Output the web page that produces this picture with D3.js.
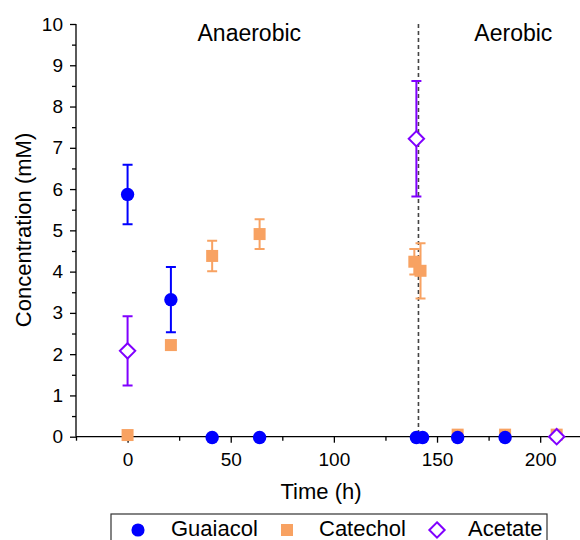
<!DOCTYPE html>
<html>
<head>
<meta charset="utf-8">
<script src="https://cdn.jsdelivr.net/npm/d3@7"></script>
<style>
  body { margin: 0; background: #fff; }
  text { font-family: "Liberation Sans", Arial, sans-serif; }
</style>
</head>
<body>
<svg id="chart"></svg>
<script>
// data
const guaiacolTime = [0, 21, 41, 64, 140, 143, 160, 183];
const guaiacolConc = [5.87, 3.32, -0.02, -0.02, -0.02, -0.02, -0.02, -0.02];
const guaiacolErr  = [0.72, 0.79, 0, 0, 0, 0, 0, 0];

const catecholTime = [0, 21, 41, 64, 139, 142, 160, 183, 208];
const catecholConc = [0.04, 2.22, 4.38, 4.91, 4.24, 4.02, 0.05, 0.05, 0.05];
const catecholErr  = [0, 0.08, 0.37, 0.36, 0.31, 0.67, 0, 0, 0];

const acetateTime = [0, 140, 208];
const acetateConc = [2.08, 7.22, 0];
const acetateErr  = [0.84, 1.4, 0];

const xTicks = [0, 50, 100, 150, 200];
const yTicks = [0, 1, 2, 3, 4, 5, 6, 7, 8, 9, 10];
const phaseLine = 141;
const phaseLabels = [{text: "Anaerobic", t: 59}, {text: "Aerobic", t: 187}];

const W = 580, H = 540;
const margin = {top: 24, right: 0, bottom: 103, left: 76};

const svg = d3.select("#chart").attr("width", W).attr("height", H);

const x = d3.scaleLinear().domain([-25, 225]).range([margin.left, margin.left + 250 * 2.063]);
const y = d3.scaleLinear().domain([0, 10]).range([H - margin.bottom - 0.3, margin.top]);

const blue = "#0000ff", orange = "#f8a262", purple = "#8000ff";

// axes
const xAxis = svg.append("g")
  .attr("transform", `translate(0,${y(0)})`)
  .call(d3.axisBottom(x).tickValues(xTicks).tickSize(6).tickPadding(10).tickFormat(d3.format("d")));
const xMinor = svg.append("g")
  .attr("transform", `translate(0,${y(0)})`)
  .call(d3.axisBottom(x).tickValues([-25, 25, 75, 125, 175, 225]).tickSize(4).tickFormat(""));
const yAxis = svg.append("g")
  .attr("transform", `translate(${margin.left},0)`)
  .call(d3.axisLeft(y).tickValues(yTicks).tickSize(6).tickPadding(7));
const yMinor = svg.append("g")
  .attr("transform", `translate(${margin.left},0)`)
  .call(d3.axisLeft(y).tickValues(d3.range(0.5, 10, 1)).tickSize(4).tickFormat(""));

[xAxis, xMinor, yAxis, yMinor].forEach(g => {
  g.selectAll("path, line").attr("stroke", "#000").attr("stroke-width", 1.3);
  g.selectAll("text").attr("font-size", 19).attr("fill", "#000")
    .attr("font-family", "'Liberation Sans', Arial, sans-serif");
});
xMinor.select("path").remove();
yMinor.select("path").remove();
xAxis.select("path").attr("d", `M${margin.left},0H${W}`);
yAxis.select("path").attr("d", `M0,${y(10)}V${y(0)}`);

// axis titles
svg.append("text").attr("x", 321).attr("y", 499).attr("text-anchor", "middle")
  .attr("font-size", 22).text("Time (h)");
svg.append("text").attr("transform", `translate(31,230) rotate(-90)`)
  .attr("text-anchor", "middle").attr("font-size", 22).text("Concentration (mM)");

// phase divider and labels
svg.append("line")
  .attr("x1", x(phaseLine)).attr("x2", x(phaseLine))
  .attr("y1", y(10)).attr("y2", y(0))
  .attr("stroke", "#444").attr("stroke-width", 1.6).attr("stroke-dasharray", "4,3");
svg.selectAll(".phase").data(phaseLabels).enter().append("text")
  .attr("x", d => x(d.t)).attr("y", 41).attr("text-anchor", "middle")
  .attr("font-size", 23).text(d => d.text);

// error bars + markers
function series(times, conc, err, color, shape) {
  const data = times.map((t, i) => ({t, v: conc[i], e: err[i]}));
  const g = svg.append("g");
  const withErr = data.filter(d => d.e > 0);
  g.selectAll(".eb").data(withErr).enter().append("path")
    .attr("fill", "none").attr("stroke", color).attr("stroke-width", 2)
    .attr("d", d => {
      const cx = x(d.t), y1 = y(d.v + d.e), y2 = y(d.v - d.e);
      return `M${cx},${y1}V${y2}M${cx - 5},${y1}H${cx + 5}M${cx - 5},${y2}H${cx + 5}`;
    });
  const sym = d3.symbol();
  g.selectAll(".pt").data(data).enter().append("path")
    .attr("transform", d => `translate(${x(d.t)},${y(d.v)})`)
    .attr("d", shape === "circle" ? sym.type(d3.symbolCircle).size(140)()
             : shape === "square" ? sym.type(d3.symbolSquare).size(144)()
             : sym.type(d3.symbolDiamond2).size(150)())
    .attr("fill", shape === "diamond" ? "#fff" : color)
    .attr("stroke", shape === "diamond" ? color : "none")
    .attr("stroke-width", 2);
}
series(catecholTime, catecholConc, catecholErr, orange, "square");
series(guaiacolTime, guaiacolConc, guaiacolErr, blue, "circle");
series(acetateTime, acetateConc, acetateErr, purple, "diamond");

// legend
const legend = svg.append("g");
legend.append("rect").attr("x", 111).attr("y", 514).attr("width", 436).attr("height", 40)
  .attr("fill", "#fff").attr("stroke", "#333").attr("stroke-width", 1.2);
const legendItems = [
  {name: "Guaiacol", color: blue, type: d3.symbolCircle, size: 135, fill: true, sx: 138, tx: 171},
  {name: "Catechol", color: orange, type: d3.symbolSquare, size: 144, fill: true, sx: 287, tx: 319},
  {name: "Acetate", color: purple, type: d3.symbolDiamond2, size: 150, fill: false, sx: 437, tx: 468}
];
legendItems.forEach(it => {
  legend.append("path").attr("transform", `translate(${it.sx},530)`)
    .attr("d", d3.symbol().type(it.type).size(it.size)())
    .attr("fill", it.fill ? it.color : "#fff")
    .attr("stroke", it.fill ? "none" : it.color).attr("stroke-width", 2);
  legend.append("text").attr("x", it.tx).attr("y", 536).attr("font-size", 22).text(it.name);
});
</script>
</body>
</html>
